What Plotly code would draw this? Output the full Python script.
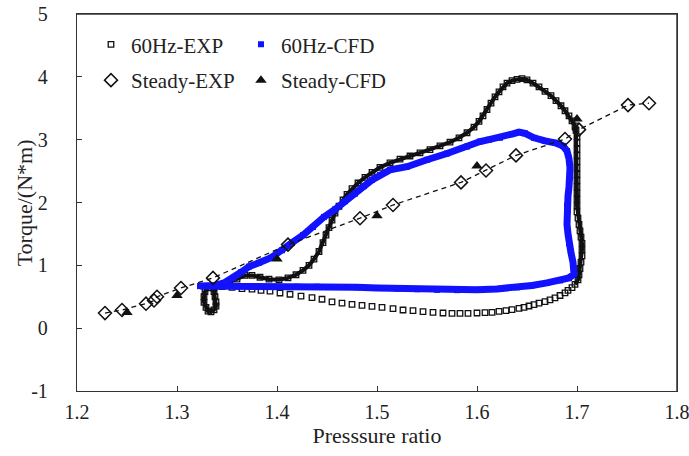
import plotly.graph_objects as go

# ---------------- data ----------------
# 60Hz-EXP loop (ordered along the cycle): sparse bottom branch, then dense upper branch + hook
EXP_X = [1.345, 1.355, 1.365, 1.375, 1.384,
         1.393, 1.403, 1.413, 1.424, 1.435, 1.445,
         1.455, 1.465, 1.475, 1.485, 1.495, 1.505, 1.516, 1.526, 1.536, 1.546,
         1.556, 1.566, 1.575, 1.583, 1.591, 1.600, 1.608, 1.615, 1.622, 1.629,
         1.635, 1.642, 1.647, 1.652, 1.657, 1.662, 1.668, 1.673, 1.678, 1.683,
         1.688, 1.691, 1.695, 1.698,
         # dense part
         1.701, 1.702, 1.703, 1.704, 1.705, 1.705, 1.705, 1.704, 1.703, 1.702,
         1.701, 1.700, 1.700, 1.700, 1.700, 1.700, 1.700, 1.700, 1.700, 1.700,
         1.700, 1.700, 1.700, 1.700, 1.699, 1.698, 1.695, 1.692, 1.688, 1.684,
         1.679, 1.674, 1.668, 1.662, 1.656, 1.650, 1.645, 1.640, 1.635, 1.630,
         1.626, 1.622, 1.618, 1.614, 1.610, 1.606, 1.602, 1.597, 1.590, 1.582,
         1.573, 1.563, 1.553, 1.543, 1.533, 1.523, 1.513, 1.503, 1.495, 1.488,
         1.481, 1.475, 1.470, 1.466, 1.462, 1.458, 1.455, 1.452, 1.449, 1.446,
         1.442, 1.437, 1.432, 1.426, 1.419, 1.411, 1.402, 1.392, 1.383, 1.375,
         1.368, 1.360, 1.352, 1.344, 1.337,
         # hook
         1.337, 1.338, 1.339, 1.339, 1.337, 1.334, 1.331, 1.329, 1.327, 1.327,
         1.328, 1.331]
EXP_Y = [0.66, 0.65, 0.63, 0.62, 0.60,
         0.59, 0.56, 0.54, 0.51, 0.485, 0.46,
         0.42, 0.40, 0.38, 0.364, 0.348, 0.332, 0.311, 0.289, 0.278, 0.262,
         0.251, 0.241, 0.235, 0.235, 0.235, 0.241, 0.246, 0.251, 0.267, 0.278,
         0.294, 0.316, 0.332, 0.353, 0.375, 0.397, 0.423, 0.450, 0.483, 0.520,
         0.563, 0.601, 0.644, 0.698,
         0.77, 0.85, 0.95, 1.05, 1.15, 1.25, 1.35, 1.45, 1.55, 1.65,
         1.75, 1.85, 1.95, 2.05, 2.15, 2.25, 2.35, 2.45, 2.55, 2.65,
         2.75, 2.85, 2.95, 3.05, 3.15, 3.22, 3.30, 3.38, 3.46, 3.54,
         3.62, 3.70, 3.77, 3.84, 3.90, 3.95, 3.97, 3.96, 3.94, 3.90,
         3.84, 3.76, 3.68, 3.58, 3.48, 3.38, 3.29, 3.20, 3.11, 3.03,
         2.96, 2.90, 2.84, 2.79, 2.74, 2.69, 2.63, 2.56, 2.48, 2.40,
         2.31, 2.22, 2.13, 2.04, 1.94, 1.83, 1.72, 1.60, 1.48, 1.36,
         1.22, 1.10, 1.00, 0.92, 0.85, 0.80, 0.77, 0.78, 0.81, 0.84,
         0.84, 0.78, 0.73, 0.69, 0.64,
         0.58, 0.50, 0.42, 0.35, 0.29, 0.26, 0.27, 0.33, 0.41, 0.50,
         0.58, 0.64]
EXP_DENSE_START = 44  # index where the markers become densely packed

# 60Hz-CFD loop
CFD_X = [1.323, 1.340, 1.360, 1.380, 1.400, 1.420, 1.440, 1.460, 1.480, 1.500,
         1.520, 1.540, 1.560, 1.580, 1.600, 1.620, 1.640, 1.655, 1.670, 1.683,
         1.692, 1.697, 1.697, 1.696, 1.694, 1.692, 1.691, 1.690, 1.690, 1.690,
         1.691, 1.692, 1.693, 1.693, 1.692, 1.690, 1.686, 1.678, 1.668, 1.657,
         1.648, 1.642, 1.635, 1.623, 1.612, 1.603, 1.590, 1.570, 1.550, 1.530,
         1.513, 1.503, 1.495, 1.487, 1.478, 1.468, 1.458, 1.447, 1.436, 1.426,
         1.415, 1.405, 1.394, 1.382, 1.372, 1.364, 1.356, 1.347, 1.338, 1.323]
CFD_Y = [0.67, 0.67, 0.665, 0.665, 0.66, 0.66, 0.66, 0.655, 0.65, 0.64,
         0.63, 0.62, 0.61, 0.605, 0.61, 0.625, 0.65, 0.68, 0.72, 0.76,
         0.80, 0.86, 0.95, 1.05, 1.20, 1.35, 1.50, 1.65, 1.80, 1.95,
         2.10, 2.25, 2.40, 2.55, 2.70, 2.82, 2.90, 2.95, 2.98, 3.03,
         3.10, 3.12, 3.09, 3.03, 3.00, 2.97, 2.89, 2.78, 2.68, 2.57,
         2.52, 2.44, 2.36, 2.26, 2.14, 2.02, 1.89, 1.77, 1.61, 1.48,
         1.36, 1.24, 1.12, 1.04, 0.98, 0.89, 0.80, 0.72, 0.68, 0.67]

# Steady-EXP
SEXP_X = [1.228, 1.245, 1.269, 1.277, 1.280, 1.304, 1.336, 1.411, 1.483, 1.516,
          1.584, 1.609, 1.639, 1.688, 1.702, 1.751, 1.772]
SEXP_Y = [0.24, 0.29, 0.39, 0.44, 0.50, 0.64, 0.80, 1.33, 1.75, 1.96,
          2.32, 2.51, 2.75, 3.01, 3.16, 3.55, 3.58]

# Steady-CFD
SCFD_X = [1.25, 1.30, 1.40, 1.50, 1.60, 1.70]
SCFD_Y = [0.25, 0.52, 1.10, 1.79, 2.58, 3.33]

X_RANGE = [1.2, 1.8]
Y_RANGE = [-1, 5]
X_TICKS = [1.2, 1.3, 1.4, 1.5, 1.6, 1.7, 1.8]
X_TICK_LABELS = ["1.2", "1.3", "1.4", "1.5", "1.6", "1.7", "1.8"]
Y_TICKS = [-1, 0, 1, 2, 3, 4, 5]
Y_TICK_LABELS = ["-1", "0", "1", "2", "3", "4", "5"]
X_TITLE = "Presssure ratio"
Y_TITLE = "Torque/(N*m)"

FONT = "Liberation Serif, Times New Roman, serif"
BLUE = "rgb(18,18,255)"
BLACK = "#111111"
TXT = "#222222"
FRAME = "#333333"

fig = go.Figure()

# 60Hz-EXP dense band (line underneath markers)
fig.add_trace(go.Scatter(
    x=EXP_X[EXP_DENSE_START:], y=EXP_Y[EXP_DENSE_START:], mode="lines",
    line=dict(color=BLACK, width=4), showlegend=False, hoverinfo="skip"))
fig.add_trace(go.Scatter(
    x=EXP_X, y=EXP_Y, mode="markers", name="60Hz-EXP", legend="legend",
    marker=dict(symbol="square-open", size=5.5, color=BLACK, line=dict(width=1.3, color=BLACK))))

# 60Hz-CFD
fig.add_trace(go.Scatter(
    x=CFD_X, y=CFD_Y, mode="lines",
    line=dict(color=BLUE, width=7), showlegend=False, hoverinfo="skip"))
fig.add_trace(go.Scatter(
    x=CFD_X, y=CFD_Y, mode="markers", name="60Hz-CFD", legend="legend",
    marker=dict(symbol="square", size=6, color=BLUE)))

# Steady-EXP dashed line + markers
fig.add_trace(go.Scatter(
    x=SEXP_X, y=SEXP_Y, mode="lines",
    line=dict(color=BLACK, width=1.3, dash="5px,4px"), showlegend=False, hoverinfo="skip"))
fig.add_trace(go.Scatter(
    x=SEXP_X, y=SEXP_Y, mode="markers", name="Steady-EXP", legend="legend2",
    marker=dict(symbol="diamond-open", size=10, color=BLACK, line=dict(width=1.5, color=BLACK))))

# Steady-CFD
fig.add_trace(go.Scatter(
    x=SCFD_X, y=SCFD_Y, mode="markers", name="Steady-CFD", legend="legend2",
    marker=dict(symbol="triangle-up", size=10, color=BLACK)))

# plot-area frame drawn from the axis ranges (top and right edges)
fig.add_trace(go.Scatter(
    x=[X_RANGE[0], X_RANGE[1], X_RANGE[1]], y=[Y_RANGE[1], Y_RANGE[1], Y_RANGE[0]],
    mode="lines", line=dict(color=FRAME, width=1.5), cliponaxis=False,
    showlegend=False, hoverinfo="skip"))

axis_common = dict(
    showgrid=False, zeroline=False, showline=True, linecolor=FRAME, linewidth=1.4,
    mirror=True, ticks="inside", ticklen=5, tickcolor=FRAME, tickwidth=1.2,
    tickfont=dict(family=FONT, size=20, color=TXT), automargin=False,
    ticklabeloverflow="allow",
)

fig.update_layout(
    width=689, height=456,
    margin=dict(l=77, r=12, t=14, b=65, autoexpand=False),
    paper_bgcolor="white", plot_bgcolor="white",
    font=dict(family=FONT, color=TXT),
    xaxis=dict(range=X_RANGE, tickmode="array", tickvals=X_TICKS, ticktext=X_TICK_LABELS,
               ticklabelstandoff=3,
               title=dict(text=X_TITLE, font=dict(family=FONT, size=22, color=TXT), standoff=0),
               **axis_common),
    yaxis=dict(range=Y_RANGE, tickmode="array", tickvals=Y_TICKS, ticktext=Y_TICK_LABELS,
               ticklabelstandoff=24, **axis_common),
    annotations=[dict(text=Y_TITLE, xref="paper", yref="paper", x=-0.087, y=0.5,
                      xanchor="center", yanchor="middle", textangle=-90, showarrow=False,
                      font=dict(family=FONT, size=22, color=TXT))],
    legend=dict(orientation="h", x=0.0233, y=0.973, xanchor="left", yanchor="top",
                entrywidth=105, bgcolor="rgba(0,0,0,0)",
                font=dict(family=FONT, size=21, color=TXT)),
    legend2=dict(orientation="h", x=0.0233, y=0.878, xanchor="left", yanchor="top",
                 entrywidth=105, bgcolor="rgba(0,0,0,0)",
                 font=dict(family=FONT, size=21, color=TXT)),
)

# remove the browser's default 8px body margin so the figure fills the window exactly
fig.write_html("out.html", config={"displayModeBar": False},
               post_script="document.body.style.margin='0';")
